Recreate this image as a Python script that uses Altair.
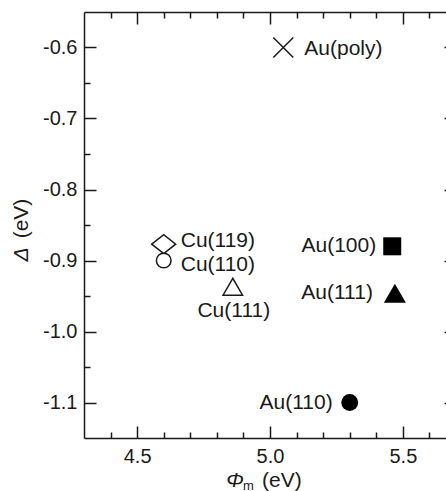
import altair as alt
import pandas as pd

# ---- data ----
names = ["Au(poly)", "Cu(119)", "Cu(110)", "Cu(111)", "Au(100)", "Au(111)", "Au(110)"]
phi = [5.05, 4.60, 4.60, 4.86, 5.46, 5.47, 5.30]
delta = [-0.60, -0.877, -0.900, -0.937, -0.880, -0.946, -1.100]

x_major = [4.5, 5.0, 5.5]
x_minor = [4.4, 4.6, 4.7, 4.8, 4.9, 5.1, 5.2, 5.3, 5.4, 5.6]
y_major = [-1.1, -1.0, -0.9, -0.8, -0.7, -0.6]
y_minor = [-1.05, -0.95, -0.85, -0.75, -0.65]

df = pd.DataFrame({"name": names, "phi": phi, "delta": delta})

# ---- layout ----
W = 362      # visible view width (window crops the right side)
R = 372      # full x range in pixels (4.3 .. 5.7)
H = 426
INK = "#1a1a1a"
FONT = "Liberation Sans"
LW = 1.5

xs = alt.Scale(domain=[4.3, 5.7], range=[0, R], nice=False, zero=False)
ys = alt.Scale(domain=[-1.15, -0.55], nice=False, zero=False)

fmt = "replace(format(datum.value, '.1f'), '\u2212', '-')"

def ax(**kw):
    base = dict(grid=False, title=None, tickColor=INK, tickWidth=LW,
                domainColor=INK, domainWidth=LW, labelColor=INK,
                labelFont=FONT, labelFontSize=20)
    base.update(kw)
    return alt.Axis(**base)

def axis_layer(xaxis, yaxis):
    return alt.Chart(df).mark_point(opacity=0).encode(
        x=alt.X("phi:Q", scale=xs, axis=xaxis),
        y=alt.Y("delta:Q", scale=ys, axis=yaxis),
    )

layers = []
# labelled axes + bottom/left frame
layers.append(axis_layer(
    ax(orient="bottom", values=x_major, ticks=False, tickSize=0, labelPadding=8,
       labelExpr=fmt, domain=True),
    ax(orient="left", values=y_major, ticks=False, tickSize=0, labelPadding=7,
       labelExpr=fmt, domain=True),
))
# inward ticks on bottom and left
for vals_x, vals_y, size in [(x_major, y_major, 12), (x_minor, y_minor, 6)]:
    layers.append(axis_layer(
        ax(orient="top", offset=-H, values=vals_x, tickSize=size, labels=False, domain=False),
        ax(orient="right", offset=-W, values=vals_y, tickSize=size, labels=False, domain=False),
    ))
# inward ticks on top (with top frame) and right
for vals_x, vals_y, size, dom in [(x_major, y_major, 12, True), (x_minor, y_minor, 6, False)]:
    layers.append(axis_layer(
        ax(orient="bottom", offset=-H, values=vals_x, tickSize=size, labels=False, domain=dom),
        ax(orient="left", offset=-R, values=vals_y, tickSize=size, labels=False, domain=False),
    ))

# ---- markers ----
marker_style = {
    "Au(poly)": dict(shape="M-1,-1L1,1M-1,1L1,-1", size=400, filled=False, stroke=INK, strokeWidth=LW),
    "Cu(119)": dict(shape="M-1,0L0,-0.79L1,0L0,0.79Z", size=576, filled=True, fill="white", stroke=INK, strokeWidth=LW),
    "Cu(110)": dict(shape="circle", size=214, filled=True, fill="white", stroke=INK, strokeWidth=LW),
    "Cu(111)": dict(shape="triangle-up", size=380, filled=True, fill="white", stroke=INK, strokeWidth=LW),
    "Au(100)": dict(shape="square", size=324, filled=True, fill="black", strokeWidth=0),
    "Au(111)": dict(shape="triangle-up", size=484, filled=True, fill="black", strokeWidth=0),
    "Au(110)": dict(shape="circle", size=284, filled=True, fill="black", strokeWidth=0),
}
label_style = {
    "Au(poly)": dict(align="left", dx=21, dy=1),
    "Cu(119)": dict(align="left", dx=17, dy=-3),
    "Cu(110)": dict(align="left", dx=17, dy=4),
    "Cu(111)": dict(align="center", dx=1, dy=24),
    "Au(100)": dict(align="right", dx=-16, dy=0),
    "Au(111)": dict(align="right", dx=-22, dy=0),
    "Au(110)": dict(align="right", dx=-17, dy=0),
}

enc = dict(x=alt.X("phi:Q", scale=xs, axis=None), y=alt.Y("delta:Q", scale=ys, axis=None))
for n in names:
    layers.append(alt.Chart(df).transform_filter(alt.datum.name == n)
                  .mark_point(opacity=1, **marker_style[n]).encode(**enc))
for n in names:
    layers.append(alt.Chart(df).transform_filter(alt.datum.name == n)
                  .mark_text(font=FONT, fontSize=21, color=INK, baseline="middle",
                             **label_style[n])
                  .encode(text="name:N", **enc))

# ---- axis titles as text marks (italic symbols) ----
one = alt.Data(values=[{}])
def txt(text, x, y, **kw):
    return alt.Chart(one).mark_text(text=text, font=FONT, color=INK, **kw).encode(
        x=alt.value(x), y=alt.value(y))

layers += [
    txt("\u03A6", 151, 475, fontSize=21, fontStyle="italic", align="center", baseline="alphabetic"),
    txt("m", 164.5, 478, fontSize=13, align="center", baseline="alphabetic"),
    txt("(eV)", 178, 475, fontSize=21, align="left", baseline="alphabetic"),
    txt("(eV)", -62, 206.5, fontSize=21, angle=270, align="center", baseline="middle"),
    txt("\u0394", -62, 242.5, fontSize=21, angle=270, fontStyle="italic", align="center", baseline="middle"),
]

chart = (
    alt.layer(*layers)
    .resolve_axis(x="independent", y="independent")
    .properties(width=W, height=H,
                autosize=alt.AutoSizeParams(type="none"),
                padding={"left": 84, "top": 12, "right": 0, "bottom": 53})
    .configure_view(stroke=None)
    .configure(background="white")
)

chart.save("out.html", embed_options={"renderer": "svg", "actions": False})
